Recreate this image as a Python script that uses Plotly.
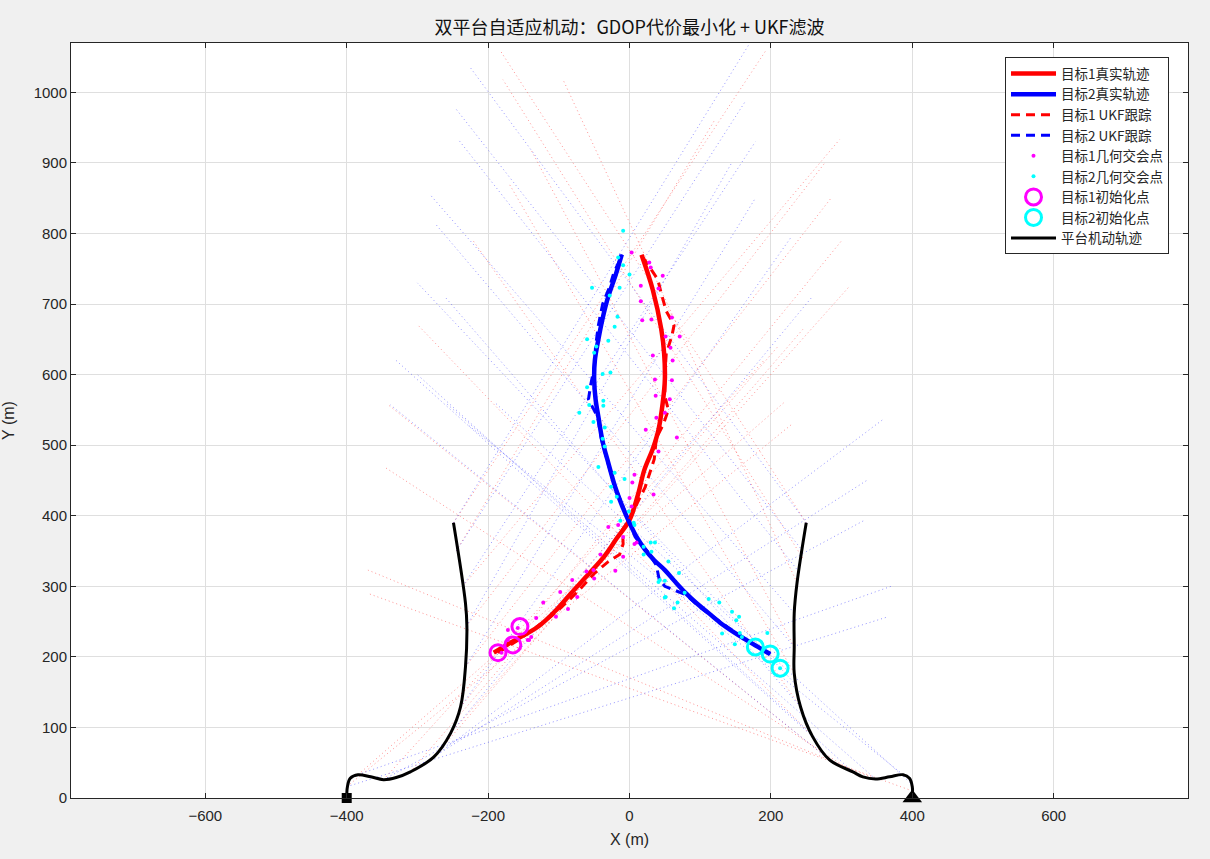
import plotly.graph_objects as go

# ---------------- data ----------------
# true trajectories
t1_x = [-192, -165, -129, -105, -82, -60, -36, -18, 0, 12, 21, 33, 41, 47, 50, 49, 45, 33, 17]
t1_y = [206, 222, 243, 265, 291, 315, 342, 368, 394, 430, 465, 495, 522, 560, 593, 630, 664, 720, 770]
t2_x = [199, 175, 149, 130, 112, 95, 80, 65, 50, 35, 22, 10, 0, -10, -20, -30, -38, -44, -48, -50, -49, -44, -38, -30, -20, -11]
t2_y = [204, 218, 234, 247, 262, 276, 290, 306, 323, 337, 352, 370, 390, 413, 440, 475, 505, 540, 565, 593, 620, 650, 680, 711, 740, 770]

# UKF estimates
u1_x = [-186, -160, -135, -110, -88, -70, -50, -30, -14, -9, -10, 0, 12, 22, 35, 38, 48, 55, 50, 50, 52, 60, 63, 52, 45, 40, 30, 22, 15]
u1_y = [206, 222, 240, 258, 278, 296, 318, 335, 345, 360, 380, 395, 420, 440, 480, 510, 530, 550, 570, 600, 630, 655, 670, 690, 715, 735, 750, 762, 770]
u2_x = [199, 175, 150, 125, 100, 80, 50, 42, 38, 25, 8, -2, -12, -22, -32, -40, -45, -58, -55, -50, -48, -44, -38, -28, -22, -15, -10]
u2_y = [204, 218, 234, 252, 270, 288, 300, 310, 330, 350, 370, 395, 420, 445, 480, 510, 540, 565, 585, 610, 640, 670, 700, 725, 745, 760, 770]

# geometric intersection points
p1_x = [3, 28, 30, 47, 16, 41, 16, 60, 18, 31, 71, 51, 58, 33, 61, 36, 60, 37, 57, 50, 23, 67, 38, 41, 7, 34, 4, 0, 3,
        -30, -16, 10, -9, 7, -9, -20, -41, -51, -61, -50, -81, -98, -74, -87, -104, -122, -132, -139, -142, -172, -181,
        -158, -144, -172]
p1_y = [773, 759, 752, 740, 726, 722, 704, 681, 677, 678, 654, 654, 638, 627, 620, 593, 592, 570, 565, 546, 522, 511,
        539, 491, 458, 430, 447, 425, 413, 384, 387, 362, 370, 360, 342, 322, 345, 323, 321, 311, 309, 292, 285, 268,
        257, 277, 255, 228, 224, 238, 206, 241, 224, 224]
p2_x = [-9, -16, -9, 0, -53, -14, -28, -17, -21, -30, -60, -47, -50, -38, -27, -60, -57, -71, -37, -37, -51, -35, -38,
        -35, -44, -21, -7, -26, -18, -1, 6, 20, 36, -26, -13, 7, 30, 20, 43, 50, 50, 31, 55, 41, 51, 70, 68, 63, 78,
        112, 127, 145, 155, 151, 131, 159, 149, 195, 156, 213]
p2_y = [804, 766, 755, 742, 723, 723, 712, 682, 668, 648, 650, 640, 631, 601, 603, 582, 557, 546, 556, 563, 533, 525,
        509, 498, 469, 461, 452, 441, 427, 406, 390, 356, 362, 420, 393, 387, 362, 345, 309, 308, 284, 349, 335, 306,
        285, 319, 277, 269, 291, 282, 277, 264, 257, 252, 233, 228, 218, 234, 234, 184]

# initialisation points
i1_x = [-186, -165, -155]
i1_y = [206, 217, 243]
i2_x = [178, 199, 213]
i2_y = [214, 204, 184]

# platform trajectories
pl_x = [-400, -399, -395, -384, -366, -348, -330, -310, -277, -253, -239, -232, -230, -232, -249]
pl_y = [0, 16, 28, 33, 30, 26, 29, 37, 58, 92, 129, 186, 243, 276, 390]
pr_x = [400, 400, 396, 387, 368, 348, 330, 316, 283, 259, 242, 233, 233, 233, 237, 250]
pr_y = [0, 16, 28, 33, 30, 27, 30, 37, 54, 87, 129, 177, 214, 262, 305, 390]

# bearing lines: start (platform) -> end
r_x0 = [-400, -384, -348, -310, -277, -253, -239, -232, -231, -236, -245, -249,
        400, 348, 316, 283, 259, 242, 233, 233, 237, 245, 250]
r_y0 = [16, 33, 26, 37, 58, 92, 129, 186, 243, 300, 350, 390,
        10, 27, 37, 54, 87, 129, 177, 214, 305, 340, 390]
r_x1 = [230, 218, 190, 210, 245, 311, 301, 285, 277, 297, 120, 192,
        -370, -370, -345, -341, -300, -222, -170, -140, -94, -179, -182]
r_y1 = [530, 560, 620, 640, 664, 725, 791, 850, 901, 933, 960, 1058,
        290, 323, 468, 557, 671, 791, 870, 920, 1018, 1018, 1058]
b_x0 = [401, 387, 348, 316, 283, 259, 242, 236, 233, 233, 240, 245, 250,
        -400, -384, -348, -310, -277, -253, -239, -232, -231, -236, -245, -249]
b_y0 = [18, 33, 27, 37, 54, 87, 129, 160, 214, 262, 320, 350, 390,
        16, 33, 26, 37, 58, 92, 129, 186, 243, 300, 350, 390]
b_x1 = [-190, -230, -260, -300, -338, -330, -260, -300, -274, -282, -242, -245, -225,
        363, 370, 333, 337, 358, 259, 228, 178, 145, 178, 163, 169]
b_y1 = [560, 530, 560, 600, 557, 620, 709, 730, 813, 855, 933, 976, 1035,
        256, 300, 394, 451, 536, 711, 794, 850, 901, 930, 986, 1068]

start_x = [-400, 400]
start_y = [0, 0]


def segs(x0, y0, x1, y1):
    xs, ys = [], []
    for a, b, c, d in zip(x0, y0, x1, y1):
        xs += [a, c, None]
        ys += [b, d, None]
    return xs, ys


fig = go.Figure()

rx, ry = segs(r_x0, r_y0, r_x1, r_y1)
bx, by = segs(b_x0, b_y0, b_x1, b_y1)
fig.add_trace(go.Scatter(x=rx, y=ry, mode="lines", showlegend=False, hoverinfo="skip",
                         line=dict(color="rgba(255,40,40,0.5)", width=1, dash="1px,3px")))
fig.add_trace(go.Scatter(x=bx, y=by, mode="lines", showlegend=False, hoverinfo="skip",
                         line=dict(color="rgba(40,40,255,0.5)", width=1, dash="1px,3px")))

fig.add_trace(go.Scatter(x=t1_x, y=t1_y, mode="lines", name="目标1真实轨迹",
                         line=dict(color="#ff0000", width=4.5, shape="spline")))
fig.add_trace(go.Scatter(x=t2_x, y=t2_y, mode="lines", name="目标2真实轨迹",
                         line=dict(color="#0000ff", width=4.5, shape="spline")))
fig.add_trace(go.Scatter(x=u1_x, y=u1_y, mode="lines", name="目标1 UKF跟踪",
                         line=dict(color="#ff0000", width=3, dash="9px,6px")))
fig.add_trace(go.Scatter(x=u2_x, y=u2_y, mode="lines", name="目标2 UKF跟踪",
                         line=dict(color="#0000ff", width=3, dash="9px,6px")))
fig.add_trace(go.Scatter(x=p1_x, y=p1_y, mode="markers", name="目标1几何交会点",
                         marker=dict(color="#ff00ff", size=4)))
fig.add_trace(go.Scatter(x=p2_x, y=p2_y, mode="markers", name="目标2几何交会点",
                         marker=dict(color="#00ffff", size=4)))
fig.add_trace(go.Scatter(x=i1_x, y=i1_y, mode="markers", name="目标1初始化点",
                         marker=dict(symbol="circle-open", color="#ff00ff", size=16, line=dict(width=3))))
fig.add_trace(go.Scatter(x=i2_x, y=i2_y, mode="markers", name="目标2初始化点",
                         marker=dict(symbol="circle-open", color="#00ffff", size=16, line=dict(width=3))))
fig.add_trace(go.Scatter(x=pl_x, y=pl_y, mode="lines", name="平台机动轨迹", legendgroup="pf",
                         line=dict(color="#000000", width=3, shape="spline")))
fig.add_trace(go.Scatter(x=pr_x, y=pr_y, mode="lines", name="平台机动轨迹", legendgroup="pf",
                         showlegend=False, line=dict(color="#000000", width=3, shape="spline")))
fig.add_trace(go.Scatter(x=start_x[:1], y=start_y[:1], mode="markers", showlegend=False, cliponaxis=False,
                         marker=dict(symbol="square", color="#000000", size=10)))
fig.add_trace(go.Scatter(x=start_x[1:], y=start_y[1:], mode="markers", showlegend=False, cliponaxis=False,
                         marker=dict(symbol="triangle-up", color="#000000", size=17)))

axis_common = dict(showline=True, linecolor="#262626", linewidth=1, mirror="ticks", ticks="inside",
                   ticklen=5, tickcolor="#262626", showgrid=True, gridcolor="#dfdfdf", gridwidth=1,
                   zeroline=False, automargin=False,
                   tickfont=dict(family="Liberation Sans, Arial", size=15, color="#262626"))

fig.update_layout(
    width=1210, height=859,
    margin=dict(l=71, r=22, t=43, b=61),
    paper_bgcolor="#f0f0f0", plot_bgcolor="#ffffff",
    font=dict(family="Noto Sans CJK SC, Liberation Sans", color="#262626"),
    title=dict(text="双平台自适应机动：GDOP代价最小化 + UKF滤波", x=0.5, xref="paper", xanchor="center",
               y=1 - 28 / 859, yanchor="middle",
               font=dict(family="Noto Sans CJK SC", size=18, color="#111111")),
    xaxis=dict(range=[-790, 790], dtick=200, ticklabelstandoff=4,
               title=dict(text="X (m)", standoff=10,
                          font=dict(family="Liberation Sans, Arial", size=16, color="#262626")), **axis_common),
    yaxis=dict(range=[0, 1070], dtick=100,
               title=dict(text="Y (m)", standoff=16,
                          font=dict(family="Liberation Sans, Arial", size=16, color="#262626")), **axis_common),
    legend=dict(x=0.983, y=0.981, xanchor="right", yanchor="top", bgcolor="#ffffff",
                bordercolor="#262626", borderwidth=1,
                font=dict(family="Noto Sans CJK SC", size=13.5, color="#262626"),
                tracegroupgap=0, itemwidth=45),
)

fig.write_html("out.html")
